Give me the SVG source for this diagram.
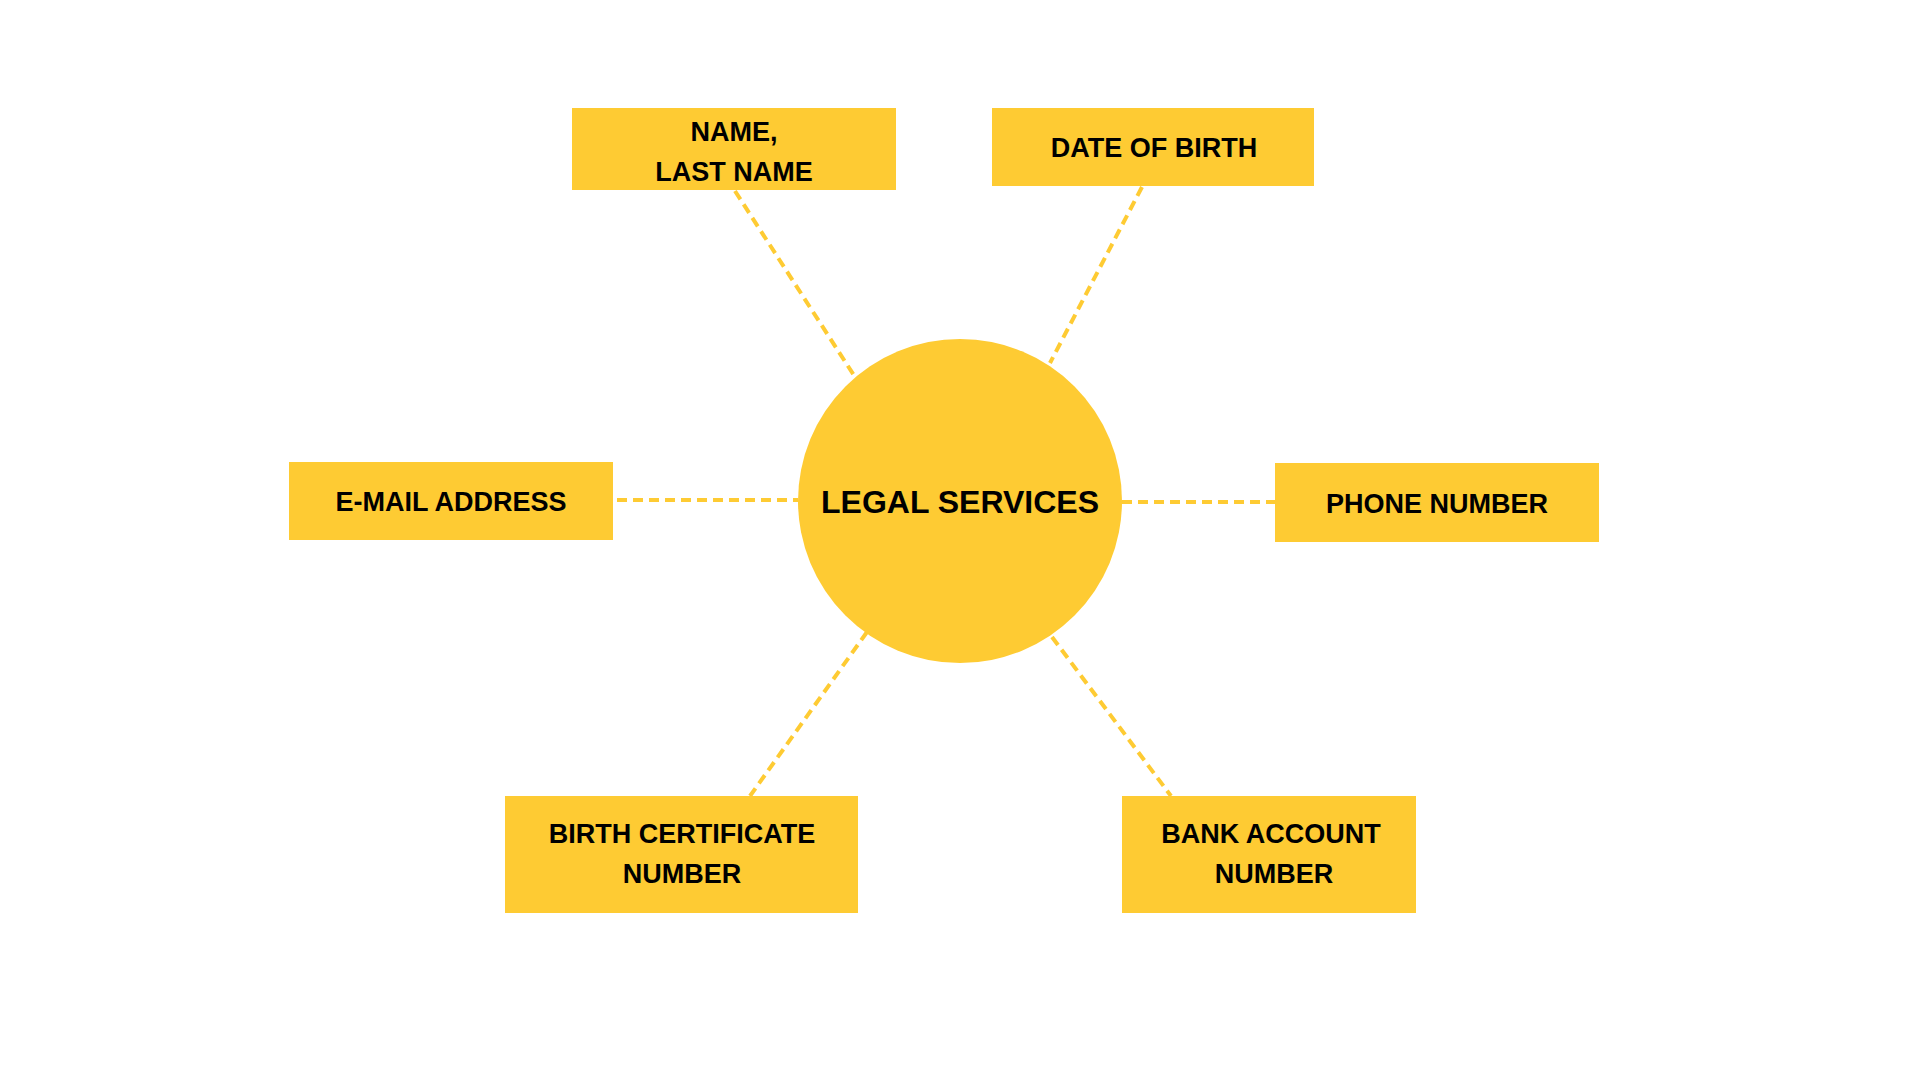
<svg xmlns="http://www.w3.org/2000/svg" width="1920" height="1080" viewBox="0 0 1920 1080">
<style>
.box{fill:#FECB33;}
.lbl{font-family:"Liberation Sans",Arial,sans-serif;font-weight:bold;font-size:27px;fill:#000;text-anchor:middle;}
.title{font-family:"Liberation Sans",Arial,sans-serif;font-weight:bold;font-size:32px;fill:#000;text-anchor:middle;}
.conn{stroke:#FECB33;stroke-width:4;stroke-dasharray:10 6;fill:none;}
</style>
<rect width="1920" height="1080" fill="#fff"/>
<g id="connectors">
<line class="conn" x1="735" y1="191" x2="855" y2="377"/>
<line class="conn" x1="1142" y1="187" x2="1050" y2="363"/>
<line class="conn" x1="617" y1="500" x2="798" y2="500"/>
<line class="conn" x1="1122" y1="502" x2="1276" y2="502"/>
<line class="conn" x1="867" y1="632" x2="750" y2="796"/>
<line class="conn" x1="1052" y1="637" x2="1171" y2="796"/>
</g>
<g id="legal-services">
<circle class="box" cx="960" cy="501" r="162"/>
<text class="title" x="960" y="513">LEGAL SERVICES</text>
</g>
<g id="name">
<rect class="box" x="572" y="108" width="324" height="82"/>
<text class="lbl" x="734" y="141">NAME,</text>
<text class="lbl" x="734" y="181">LAST NAME</text>
</g>
<g id="date-of-birth">
<rect class="box" x="992" y="108" width="322" height="78"/>
<text class="lbl" x="1154" y="157">DATE OF BIRTH</text>
</g>
<g id="email">
<rect class="box" x="289" y="462" width="324" height="78"/>
<text class="lbl" x="451" y="511">E-MAIL ADDRESS</text>
</g>
<g id="phone">
<rect class="box" x="1275" y="463" width="324" height="79"/>
<text class="lbl" x="1437" y="513">PHONE NUMBER</text>
</g>
<g id="birth-certificate">
<rect class="box" x="505" y="796" width="353" height="117"/>
<text class="lbl" x="682" y="843">BIRTH CERTIFICATE</text>
<text class="lbl" x="682" y="883">NUMBER</text>
</g>
<g id="bank-account">
<rect class="box" x="1122" y="796" width="294" height="117"/>
<text class="lbl" x="1271" y="843">BANK ACCOUNT</text>
<text class="lbl" x="1274" y="883">NUMBER</text>
</g>
</svg>
